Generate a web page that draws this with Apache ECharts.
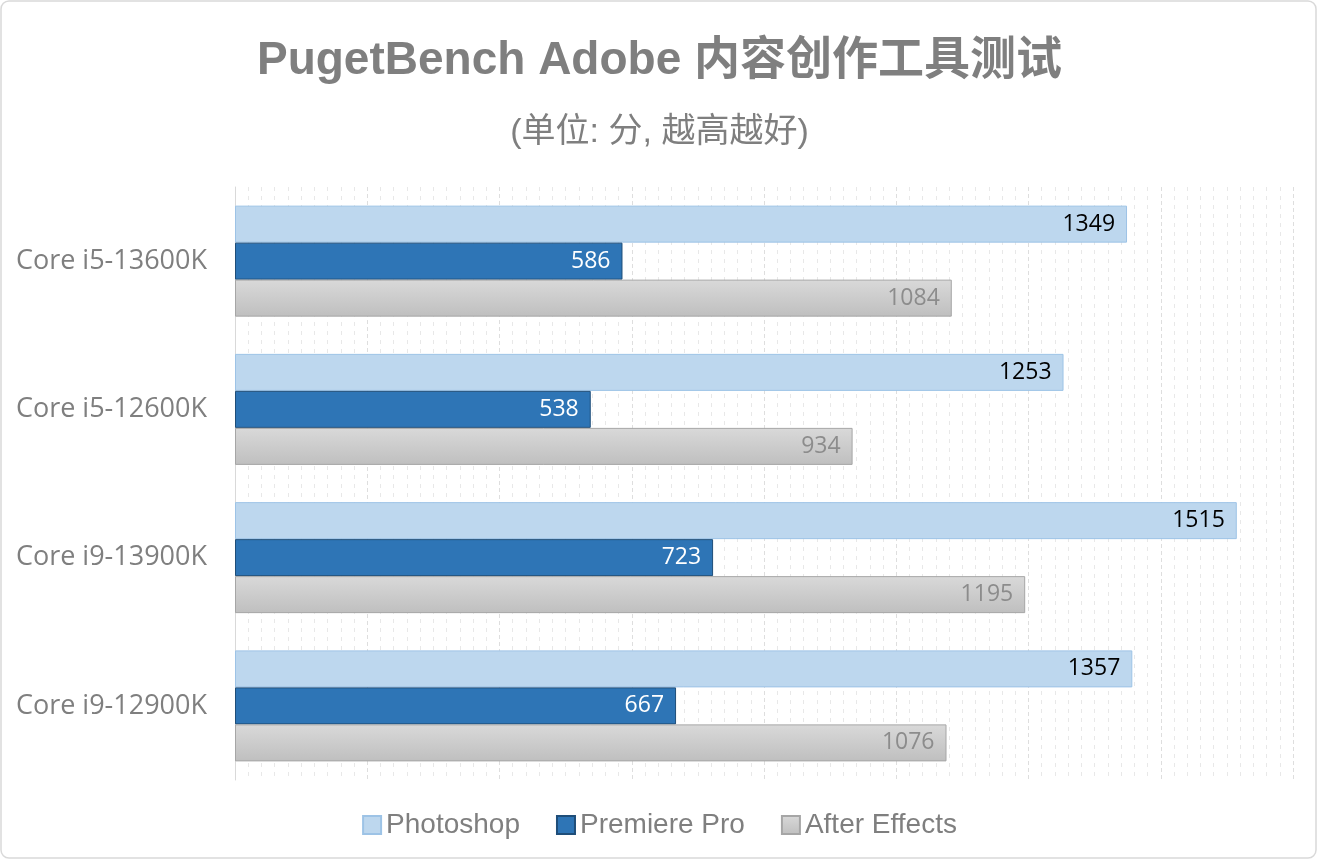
<!DOCTYPE html>
<html>
<head>
<meta charset="utf-8">
<script src="https://cdn.jsdelivr.net/npm/echarts@6/dist/echarts.min.js"></script>
<style>
html, body { margin: 0; padding: 0; background: #fff; }
#chart { width: 1319px; height: 864px; }
</style>
</head>
<body>
<div id="chart"></div>
<script>
const cpus = ['Core i5-13600K', 'Core i5-12600K', 'Core i9-13900K', 'Core i9-12900K'];
const seriesNames = ['Photoshop', 'Premiere Pro', 'After Effects'];
const photoshop = [1349, 1253, 1515, 1357];
const premiere = [586, 538, 723, 667];
const afterEffects = [1084, 934, 1195, 1076];

const labelFont = '"Open Sans", "Noto Sans", sans-serif';

function barLabel(color) {
    return {
        show: true,
        position: 'insideRight',
        distance: 12,
        color: color,
        fontSize: 23,
        fontFamily: labelFont
    };
}

const chart = echarts.init(document.getElementById('chart'));
const option = {
    backgroundColor: '#fff',
    animation: false,
    title: [{
        text: 'PugetBench Adobe 内容创作工具测试',
        left: 'center',
        top: 33,
        textStyle: {
            fontSize: 46,
            fontWeight: 'bold',
            color: '#7f7f7f',
            fontFamily: '"Liberation Sans", "Noto Sans CJK SC", sans-serif'
        }
    }, {
        text: '(单位: 分, 越高越好)',
        left: 'center',
        top: 111,
        textStyle: {
            fontSize: 34,
            fontWeight: 'normal',
            color: '#7f7f7f',
            fontFamily: '"Liberation Sans", "Noto Sans CJK SC", sans-serif'
        }
    }],
    graphic: [{
        type: 'rect',
        shape: { x: 1, y: 1, width: 1315, height: 857, r: 8 },
        style: { fill: 'none', stroke: '#d9d9d9', lineWidth: 1.5 },
        z: -1
    }],
    legend: {
        bottom: 20,
        left: 'center',
        itemWidth: 18,
        itemHeight: 18,
        itemGap: 36,
        icon: 'rect',
        textStyle: {
            fontSize: 28,
            color: '#7f7f7f',
            fontFamily: '"Liberation Sans", sans-serif'
        },
        data: seriesNames
    },
    grid: {
        left: 235,
        right: 26,
        top: 187,
        bottom: 84
    },
    xAxis: {
        type: 'value',
        min: 0,
        max: 1600,
        interval: 200,
        axisLabel: { show: false },
        axisLine: { show: false },
        axisTick: { show: false },
        splitLine: {
            show: true,
            lineStyle: { color: '#dedede', type: [4, 3], width: 1 }
        },
        minorTick: { show: false, splitNumber: 10 },
        minorSplitLine: {
            show: true,
            lineStyle: { color: '#e8e8e8', type: [4, 5], width: 1 }
        }
    },
    yAxis: {
        type: 'category',
        inverse: true,
        data: cpus,
        axisLine: { show: true, lineStyle: { color: '#d9d9d9' } },
        axisTick: { show: false },
        axisLabel: {
            margin: 28,
            fontSize: 27,
            color: '#7f7f7f',
            fontFamily: labelFont
        }
    },
    series: [{
        name: seriesNames[0],
        type: 'bar',
        data: photoshop,
        barWidth: 37,
        barGap: '0%',
        itemStyle: { color: '#bdd7ee', borderColor: '#9dc3e6', borderWidth: 1 },
        label: barLabel('#000')
    }, {
        name: seriesNames[1],
        type: 'bar',
        data: premiere,
        barWidth: 37,
        barGap: '0%',
        itemStyle: { color: '#2e75b6', borderColor: '#1f4e79', borderWidth: 1 },
        label: barLabel('#fff')
    }, {
        name: seriesNames[2],
        type: 'bar',
        data: afterEffects,
        barWidth: 37,
        barGap: '0%',
        itemStyle: {
            color: new echarts.graphic.LinearGradient(0, 0, 0, 1, [
                { offset: 0, color: '#d9d9d9' },
                { offset: 1, color: '#bfbfbf' }
            ]),
            borderColor: '#a6a6a6',
            borderWidth: 1
        },
        label: barLabel('#8c8c8c')
    }]
};
chart.setOption(option);
</script>
</body>
</html>
